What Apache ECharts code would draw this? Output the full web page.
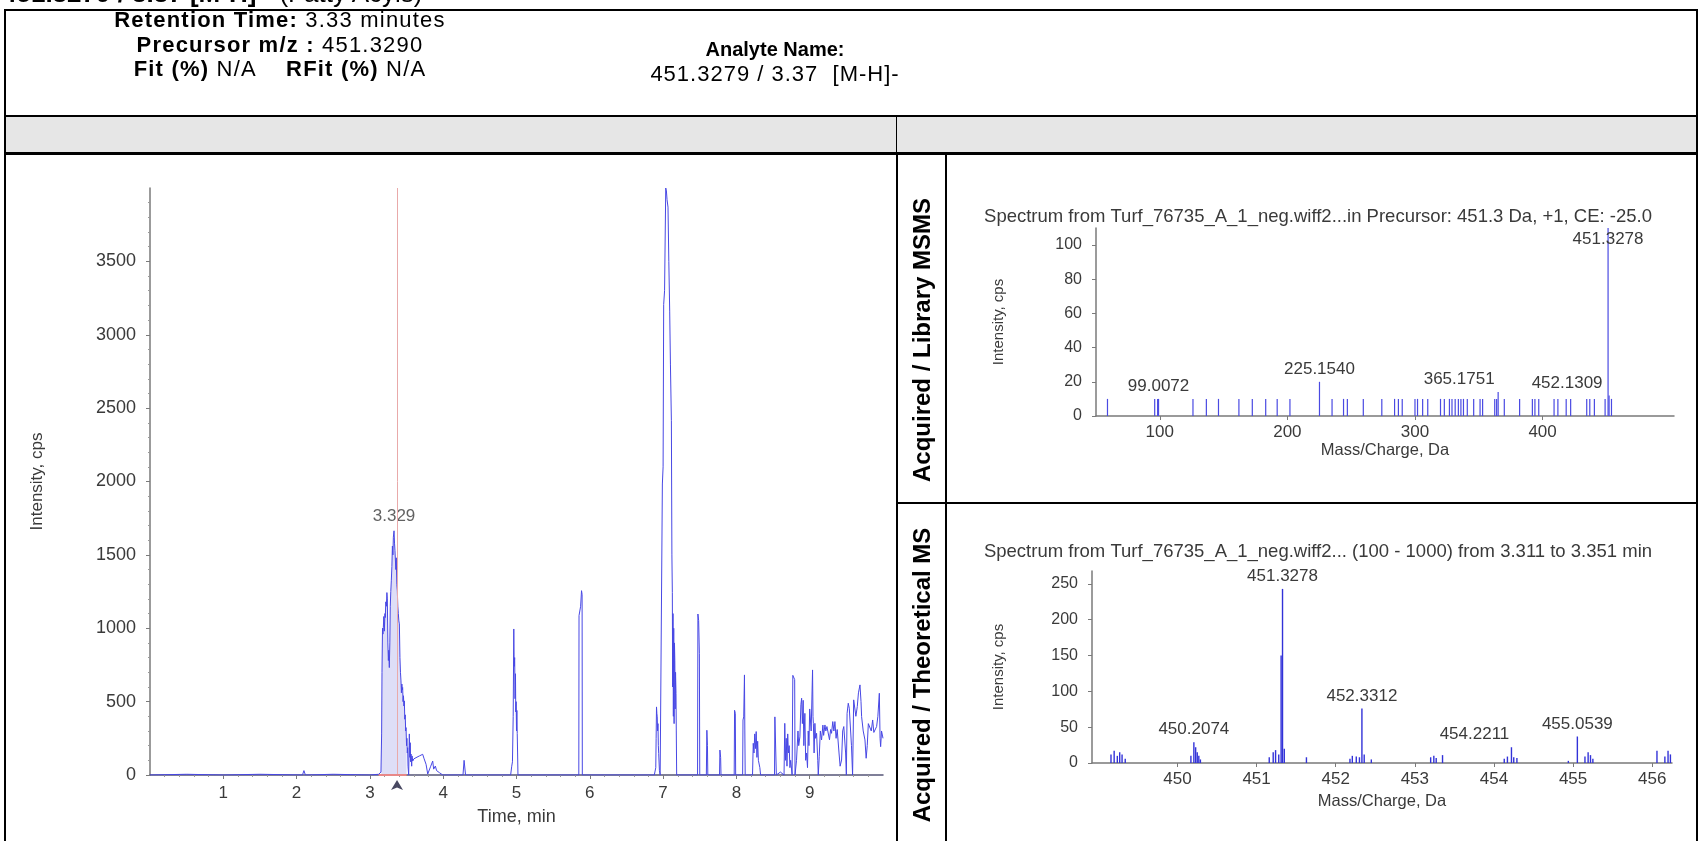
<!DOCTYPE html>
<html>
<head>
<meta charset="utf-8">
<script src="https://cdn.jsdelivr.net/npm/echarts@6.0.0/dist/echarts.min.js"></script>
<style>
  html, body { margin:0; padding:0; background:#fff; }
  body { width:1699px; height:841px; overflow:hidden; position:relative;
         font-family:'Liberation Sans', Arial, Helvetica, sans-serif; color:#000; }
  #chart { position:absolute; left:0; top:0; width:1699px; height:841px; }
  .ln { position:absolute; background:#000; pointer-events:none; z-index:5; }
  .txt { position:absolute; z-index:6; white-space:nowrap; pointer-events:none; }
  .hdr { line-height:24.5px; text-align:center; }
  .rot { position:absolute; z-index:6; font-weight:bold; font-size:24px; white-space:nowrap;
         transform:translate(-50%,-50%) rotate(-90deg); }
</style>
</head>
<body>
<div id="chart"></div>

<!-- cut-off page title (only its lower part is inside the picture) -->
<div class="txt" style="left:0;top:0;width:700px;height:8px;overflow:hidden;">
  <div style="position:absolute;left:2px;top:-22px;font-size:26px;"><b>451.3279 / 3.37 [M-H]-</b>&nbsp;&nbsp;(Fatty Acyls)</div>
</div>

<!-- frame -->
<div class="ln" style="left:4px;top:9px;width:1694px;height:2px;"></div>
<div class="ln" style="left:4px;top:9px;width:2px;height:832px;"></div>
<div class="ln" style="left:1696px;top:9px;width:2px;height:832px;"></div>
<div class="ln" style="left:4px;top:115px;width:1694px;height:2px;"></div>
<div style="position:absolute;left:6px;top:117px;width:1690px;height:35px;background:#e6e6e6;z-index:4;"></div>
<div class="ln" style="left:896px;top:117px;width:1px;height:36px;"></div>
<div class="ln" style="left:4px;top:152px;width:1694px;height:3px;"></div>
<div class="ln" style="left:896px;top:152px;width:2px;height:689px;"></div>
<div class="ln" style="left:945px;top:152px;width:2px;height:689px;"></div>
<div class="ln" style="left:896px;top:502px;width:802px;height:2px;"></div>

<!-- header texts -->
<div class="txt hdr" style="left:30px;width:500px;top:8px;font-size:22px;letter-spacing:1.2px;">
  <b>Retention Time:</b> 3.33 minutes<br>
  <b>Precursor m/z :</b> 451.3290<br>
  <b>Fit (%)</b> N/A&nbsp;&nbsp;&nbsp;&nbsp;<b>RFit (%)</b> N/A
</div>
<div class="txt hdr" style="left:525px;width:500px;top:37px;font-size:20px;">
  <b>Analyte Name:</b><br>
  <span style="font-size:22px;letter-spacing:1px;">451.3279 / 3.37&nbsp;&nbsp;[M-H]-</span>
</div>

<div class="rot" style="left:922px;top:340px;">Acquired / Library MSMS</div>
<div class="rot" style="left:922px;top:675px;">Acquired / Theoretical MS</div>

<script>
// ---------------- data ----------------
// XIC chromatogram (time in min, intensity in cps)
const chromTime = [
  0, 0.5, 1.0, 1.5, 2.08, 2.1, 2.12, 2.5, 3.0, 3.12, 3.14,
  3.151, 3.160, 3.165, 3.172, 3.178, 3.183, 3.190, 3.197, 3.205, 3.210, 3.217, 3.225, 3.232, 3.238,
  3.245, 3.252, 3.258, 3.265, 3.272, 3.278, 3.285, 3.292, 3.300, 3.307, 3.314, 3.320, 3.329, 3.336,
  3.342, 3.347, 3.354, 3.360, 3.367, 3.374, 3.381, 3.388, 3.395, 3.402, 3.410, 3.417, 3.424, 3.430,
  3.436, 3.442, 3.447, 3.452, 3.458, 3.464, 3.470, 3.476, 3.482, 3.488, 3.493, 3.500, 3.505, 3.510,
  3.515, 3.520, 3.529, 3.535, 3.538, 3.545, 3.550, 3.556, 3.561, 3.570, 3.575, 3.584, 3.600, 3.629,
  3.650, 3.675, 3.700, 3.720, 3.740, 3.766, 3.789, 3.800, 3.830, 3.857, 3.870, 3.893, 3.910, 3.948, 3.994,
  4.270, 4.285, 4.290, 4.305,
  4.920, 4.935, 4.945, 4.955, 4.963, 4.968, 4.975, 4.980, 4.986, 4.990, 4.995, 5.000, 5.005, 5.010, 5.015, 5.020,
  5.850, 5.853, 5.875, 5.887, 5.895, 5.898,
  6.880, 6.900, 6.905, 6.910, 6.915, 6.920, 6.925, 6.930, 6.935, 6.940, 6.950, 6.960,
  6.985, 6.990, 7.000, 7.008, 7.020, 7.036, 7.045, 7.054, 7.067, 7.078, 7.090, 7.100, 7.113, 7.120,
  7.126, 7.130, 7.135, 7.140, 7.145, 7.150, 7.155, 7.160, 7.165, 7.170, 7.176, 7.180, 7.185,
  7.470, 7.475, 7.485, 7.495, 7.500,
  7.590, 7.597, 7.605, 7.610,
  7.770, 7.775, 7.785, 7.790,
  7.970, 7.975, 7.985, 7.990,
  8.085, 8.090, 8.100, 8.110, 8.115, 8.120,
  8.220, 8.230, 8.240, 8.250, 8.260, 8.270, 8.280, 8.290, 8.300, 8.320, 8.330,
  8.520, 8.525, 8.535, 8.545,
  8.600, 8.650, 8.660, 8.670, 8.680, 8.690, 8.700, 8.710, 8.720, 8.730, 8.740, 8.760,
  8.770, 8.785, 8.795, 8.800,
  8.820, 8.840, 8.850, 8.866, 8.880, 8.890, 8.900, 8.911, 8.920, 8.934, 8.945, 8.957, 8.970, 8.980,
  8.990, 9.000, 9.020, 9.039, 9.045, 9.050, 9.060, 9.071, 9.080, 9.094, 9.110, 9.117, 9.130, 9.145,
  9.162, 9.180, 9.190, 9.208, 9.220, 9.235, 9.253, 9.270, 9.285, 9.298, 9.315, 9.330, 9.344, 9.360,
  9.375, 9.389, 9.400, 9.415, 9.435, 9.450, 9.465, 9.480, 9.490, 9.500, 9.510, 9.526, 9.540, 9.558,
  9.570, 9.585, 9.600, 9.617, 9.630, 9.649, 9.665, 9.686, 9.700, 9.708, 9.730, 9.754, 9.770, 9.785,
  9.800, 9.822, 9.840, 9.859, 9.875, 9.891, 9.913, 9.930, 9.950, 9.960, 9.968, 9.980, 10.0
];
const chromIntensity = [
  0, 5, 0, 5, 0, 30, 0, 5, 0, 5, 10,
  20, 280, 700, 1000, 960, 1005, 1080, 980, 1100, 1073, 1180, 1150, 1243, 1200,
  900, 780, 850, 732, 900, 1150, 1250, 1323, 1420, 1560, 1500, 1620, 1664, 1580,
  1530, 1528, 1400, 1480, 1300, 1255, 1150, 1100, 1050, 1030, 800, 700, 641, 560,
  620, 580, 596, 500, 540, 470, 505, 380, 410, 300, 323, 200, 250, 150,
  186, 60, 0, 200, 280, 120, 220, 90, 143, 60, 130, 95, 110, 118,
  125, 130, 138, 141, 110, 73, 7, 0, 60, 95, 40, 61, 30, 16, 0,
  0, 100, 90, 0,
  0, 60, 90, 400, 995, 740, 800, 520, 690, 430, 500, 300, 440, 283, 150, 0,
  0, 1086, 1150, 1256, 1230, 0,
  0, 50, 250, 464, 420, 396, 300, 350, 200, 147, 30, 0,
  0, 1983, 2100, 3207, 3300, 4000, 3980, 3920, 3870, 3500, 3161, 2800, 2414, 1500,
  1244, 600, 1100, 400, 1000, 350, 900, 780, 450, 700, 554, 300, 0,
  0, 1097, 1052, 826, 0,
  0, 305, 200, 0,
  0, 170, 120, 0,
  0, 441, 420, 0,
  0, 375, 396, 682, 300, 0,
  0, 216, 150, 280, 180, 296, 120, 230, 100, 50, 0,
  0, 396, 398, 0,
  20, 0, 352, 100, 250, 60, 280, 150, 200, 50, 100, 0,
  679, 682, 650, 0,
  100, 300, 200, 260, 480, 523, 350, 509, 200, 420, 100, 150, 50, 300,
  200, 450, 300, 716, 400, 352, 150, 352, 250, 284, 100, 0, 125, 300,
  239, 340, 270, 341, 300, 330, 330, 240, 310, 284, 364, 300, 364, 250,
  310, 307, 150, 60, 102, 300, 330, 330, 150, 0, 420, 489, 455, 455,
  200, 0, 512, 512, 400, 466, 560, 614, 500, 398, 300, 239, 114, 200,
  350, 352, 300, 375, 290, 284, 330, 400, 557, 250, 193, 300, 250
];
const expectedRT = 3.37;              // analyte expected retention time (min)
const integrationRange = [3.15, 3.50]; // integrated peak window (min)

// Acquired MSMS spectrum
const msmsMz = [59, 96, 98.3, 99.0072, 126, 136.5, 146, 162, 172.5, 183, 192, 202, 225.154,
  235, 244, 247, 259.5, 274, 284, 287, 290, 300, 302, 306, 310, 320, 323, 327, 329, 331.5, 334,
  336, 338, 341, 346, 351, 353, 362.5, 364, 365.1751, 370, 382, 392, 394, 397, 409, 412, 418.5,
  422, 434.6, 437, 440.6, 449, 451.3278, 452.1309, 454];
const msmsIntensity = [10, 10, 10, 10, 10, 10, 10, 10, 10, 10, 10, 10, 20,
  10, 10, 10, 10, 10, 10, 10, 10, 10, 10, 10, 10, 10, 10, 10, 10, 10, 10,
  10, 10, 10, 10, 10, 10, 10, 10, 14, 10, 10, 10, 10, 10, 10, 10, 10,
  10, 10, 10, 10, 10, 110, 12, 10];
const msmsLabeled = [99.0072, 225.154, 365.1751, 452.1309, 451.3278];

// Acquired MS spectrum (isotope region)
const msMz = [449.16, 449.20, 449.24, 449.27, 449.30, 449.34,
  450.17, 450.2074, 450.23, 450.25, 450.27, 450.29,
  451.16, 451.21, 451.24, 451.28, 451.31, 451.3278, 451.35, 451.63,
  452.18, 452.21, 452.26, 452.30, 452.3312, 452.36, 452.45,
  453.20, 453.24, 453.27, 453.35,
  454.13, 454.17, 454.2211, 454.25, 454.29,
  454.94, 455.0539, 455.15, 455.19, 455.22, 455.25,
  456.06, 456.16, 456.20, 456.23];
const msIntensity = [12, 17, 10, 15, 12, 6,
  10, 29, 22, 15, 10, 5,
  8, 15, 18, 12, 150, 243, 20, 8,
  6, 10, 9, 8, 76, 12, 5,
  8, 10, 7, 11,
  6, 9, 22, 8, 7,
  3, 37, 9, 15, 11, 6,
  17, 9, 17, 12];
const msLabeled = [450.2074, 451.3278, 452.3312, 454.2211, 455.0539];

const chromXTicks = [1, 2, 3, 4, 5, 6, 7, 8, 9];
const chromYTicks = [0, 500, 1000, 1500, 2000, 2500, 3000, 3500];
const msmsXTicks = [100, 200, 300, 400];
const msmsYTicks = [0, 20, 40, 60, 80, 100];
const msXTicks = [450, 451, 452, 453, 454, 455, 456];
const msYTicks = [0, 50, 100, 150, 200, 250];

// ---------------- chart ----------------
const FONT = "'Liberation Sans', Arial, Helvetica, sans-serif";
const txtCol = '#3a3a3a';
const lineBlue = '#4848e4';
const plain = v => String(v);

const chromData = chromTime.map((t, i) => [t, chromIntensity[i]]);
const areaData = chromData.filter(d => d[0] >= integrationRange[0] && d[0] <= integrationRange[1]);
let apex = areaData[0];
areaData.forEach(d => { if (d[1] > apex[1]) apex = d; });

const labelOffsets = { '365.1751': [-39, 0], '452.1309': [-42, 0], '454.2211': [-37, 0] };
function stickData(mz, inten, labeled, topInside) {
  return mz.map((m, i) => {
    const item = { value: [m, inten[i]] };
    if (labeled.indexOf(m) >= 0) {
      const inside = (m === topInside);
      item.label = {
        show: true, formatter: m.toFixed(4), color: txtCol, fontSize: 17, fontFamily: FONT,
        position: inside ? 'insideTop' : 'top', distance: inside ? 3 : 4,
        offset: labelOffsets[m.toFixed(4)] || [0, 0]
      };
    }
    return item;
  });
}

function axisCommon(extra) {
  return Object.assign({
    axisLine: { show: true, lineStyle: { color: '#7a7a7a', width: 1.5 } },
    axisTick: { show: true, length: 4, lineStyle: { color: '#7a7a7a' } },
    minorTick: { show: true, splitNumber: 5, length: 2, lineStyle: { color: '#9a9a9a' } },
    splitLine: { show: false },
    nameTextStyle: { color: txtCol, fontFamily: FONT },
  }, extra);
}

const chart = echarts.init(document.getElementById('chart'), null, { renderer: 'canvas' });
chart.setOption({
  animation: false,
  backgroundColor: 'transparent',
  title: [
    { text: 'Spectrum from Turf_76735_A_1_neg.wiff2...in Precursor: 451.3 Da, +1, CE: -25.0',
      left: 1313, top: 202, textAlign: 'center',
      textStyle: { fontSize: 18.5, fontWeight: 'normal', color: txtCol, fontFamily: FONT } },
    { text: 'Spectrum from Turf_76735_A_1_neg.wiff2... (100 - 1000) from 3.311 to 3.351 min',
      left: 1313, top: 537, textAlign: 'center',
      textStyle: { fontSize: 18.5, fontWeight: 'normal', color: txtCol, fontFamily: FONT } }
  ],
  grid: [
    { left: 150, top: 188, width: 733, height: 587 },
    { left: 1096, top: 228, width: 578, height: 188 },
    { left: 1092, top: 571, width: 580, height: 192 }
  ],
  xAxis: [
    axisCommon({ gridIndex: 0, type: 'value', min: 0, max: 10, interval: 1,
      name: 'Time, min', nameLocation: 'middle', nameGap: 33,
      nameTextStyle: { color: txtCol, fontFamily: FONT, fontSize: 18 },
      axisLine: { show: true, lineStyle: { color: '#555577', width: 1.5 } },
      axisLabel: { customValues: chromXTicks, formatter: plain, color: txtCol, fontSize: 17, fontFamily: FONT, margin: 10 },
      axisTick: { customValues: chromXTicks, length: 4, lineStyle: { color: '#7a7a7a' } } }),
    axisCommon({ gridIndex: 1, type: 'value', min: 50, max: 503,
      name: 'Mass/Charge, Da', nameLocation: 'middle', nameGap: 25,
      nameTextStyle: { color: txtCol, fontFamily: FONT, fontSize: 16.5 },
      axisLabel: { customValues: msmsXTicks, formatter: plain, color: txtCol, fontSize: 17, fontFamily: FONT, margin: 8 },
      axisTick: { customValues: msmsXTicks, length: 4, lineStyle: { color: '#7a7a7a' } },
      minorTick: { show: false } }),
    axisCommon({ gridIndex: 2, type: 'value', min: 448.92, max: 456.25,
      name: 'Mass/Charge, Da', nameLocation: 'middle', nameGap: 30,
      nameTextStyle: { color: txtCol, fontFamily: FONT, fontSize: 16.5 },
      axisLabel: { customValues: msXTicks, formatter: plain, color: txtCol, fontSize: 17, fontFamily: FONT, margin: 8 },
      axisTick: { customValues: msXTicks, length: 4, lineStyle: { color: '#7a7a7a' } },
      minorTick: { show: false } })
  ],
  yAxis: [
    axisCommon({ gridIndex: 0, type: 'value', min: 0, max: 4000, interval: 500,
      name: 'Intensity, cps', nameLocation: 'middle', nameGap: 104,
      nameTextStyle: { color: txtCol, fontFamily: FONT, fontSize: 17 },
      axisLabel: { customValues: chromYTicks, formatter: plain, color: txtCol, fontSize: 18, fontFamily: FONT, margin: 14 },
      axisTick: { customValues: chromYTicks, length: 4, lineStyle: { color: '#7a7a7a' } } }),
    axisCommon({ gridIndex: 1, type: 'value', min: 0, max: 110,
      name: 'Intensity, cps', nameLocation: 'middle', nameGap: 90,
      nameTextStyle: { color: txtCol, fontFamily: FONT, fontSize: 15 },
      axisLabel: { customValues: msmsYTicks, formatter: plain, color: txtCol, fontSize: 16, fontFamily: FONT, margin: 14 },
      axisTick: { customValues: msmsYTicks, length: 4, lineStyle: { color: '#7a7a7a' } },
      minorTick: { show: false } }),
    axisCommon({ gridIndex: 2, type: 'value', min: 0, max: 268,
      name: 'Intensity, cps', nameLocation: 'middle', nameGap: 86,
      nameTextStyle: { color: txtCol, fontFamily: FONT, fontSize: 15 },
      axisLabel: { customValues: msYTicks, formatter: plain, color: txtCol, fontSize: 16, fontFamily: FONT, margin: 14 },
      axisTick: { customValues: msYTicks, length: 4, lineStyle: { color: '#7a7a7a' } },
      minorTick: { show: false } })
  ],
  series: [
    { type: 'line', xAxisIndex: 0, yAxisIndex: 0, data: areaData, symbol: 'none',
      lineStyle: { width: 0 }, areaStyle: { color: 'rgba(170,170,235,0.55)' }, z: 1, silent: true },
    { type: 'line', xAxisIndex: 0, yAxisIndex: 0, data: chromData, symbol: 'none',
      lineStyle: { color: lineBlue, width: 1 }, z: 3,
      markLine: { silent: true, symbol: 'none', label: { show: false },
        data: [
          { xAxis: expectedRT, lineStyle: { color: '#e9aaaa', width: 1, type: 'solid' } },
          [ { coord: [integrationRange[0] - 0.03, 0] }, { coord: [integrationRange[1], 0],
              lineStyle: { color: '#e88888', width: 2, type: 'solid' } } ]
        ] } },
    { type: 'scatter', xAxisIndex: 0, yAxisIndex: 0, data: [apex], symbolSize: 0, z: 4,
      label: { show: true, position: 'top', distance: 6, formatter: apex[0].toFixed(3),
               color: txtCol, fontSize: 17, fontFamily: FONT } },
    { type: 'scatter', xAxisIndex: 0, yAxisIndex: 0, data: [[expectedRT, 0]], symbol: 'arrow',
      symbolSize: [9, 10], symbolOffset: [0, 5], itemStyle: { color: '#1a1a3a' }, clip: false, z: 5 },
    { type: 'bar', xAxisIndex: 1, yAxisIndex: 1, barWidth: 1.2,
      itemStyle: { color: '#4a4ae2' }, data: stickData(msmsMz, msmsIntensity, msmsLabeled, 451.3278) },
    { type: 'bar', xAxisIndex: 2, yAxisIndex: 2, barWidth: 1.4,
      itemStyle: { color: '#3232d8' }, data: stickData(msMz, msIntensity, msLabeled, null) }
  ]
});
</script>
</body>
</html>
